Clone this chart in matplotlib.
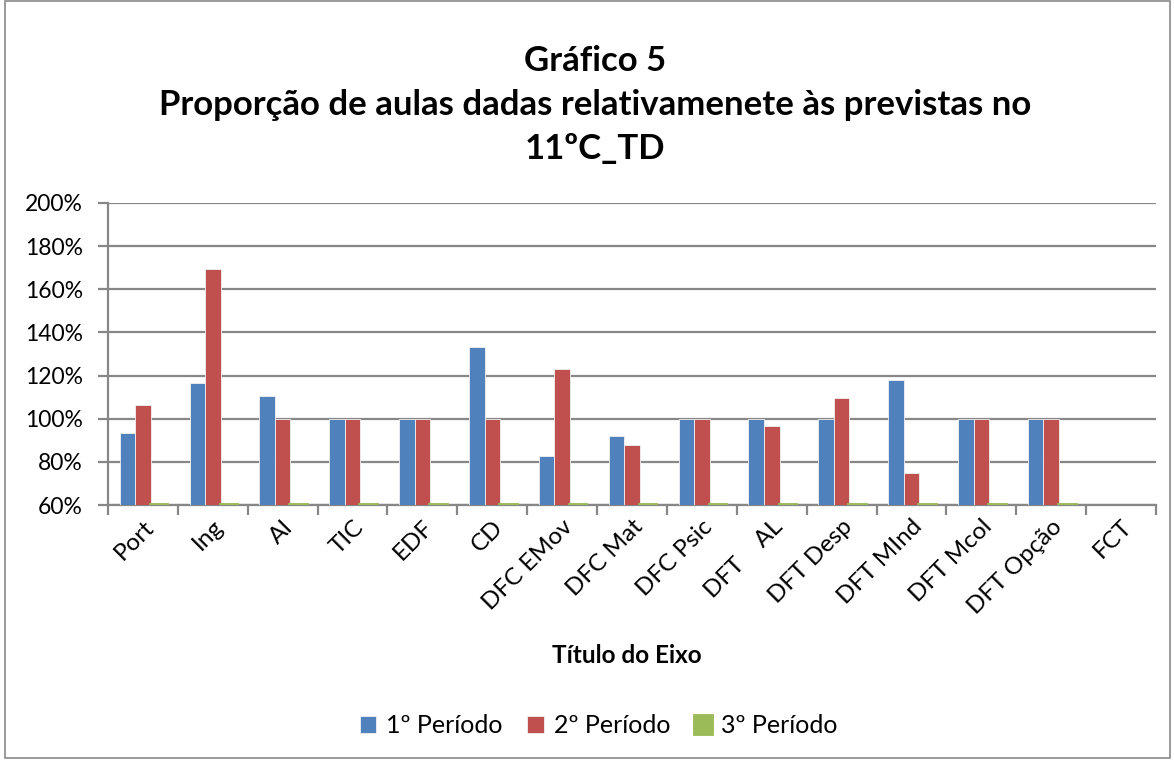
import numpy as np
import matplotlib
matplotlib.use('Agg')
import matplotlib.pyplot as plt
from matplotlib.patches import Rectangle

plt.rcParams['font.family'] = ['Lato', 'DejaVu Sans']

# data (fractions of planned classes)
categories = ['Port', 'Ing', 'AI', 'TIC', 'EDF', 'CD', 'DFC EMov', 'DFC Mat',
              'DFC Psic', 'DFT    AL', 'DFT Desp', 'DFT MInd', 'DFT Mcol',
              'DFT Opção', 'FCT']
periodo_1 = [0.935, 1.165, 1.105, 1.0, 1.0, 1.333, 0.827, 0.92,
             1.0, 1.0, 1.0, 1.178, 1.0, 1.0, np.nan]
periodo_2 = [1.062, 1.692, 1.0, 1.0, 1.0, 1.0, 1.229, 0.878,
             1.0, 0.965, 1.096, 0.747, 1.0, 1.0, np.nan]
periodo_3 = [0, 0, 0, 0, 0, 0, 0, 0, 0, 0, 0, 0, 0, 0, np.nan]
series_names = ['1º Período', '2º Período', '3º Período']
series_colors = ['#4F81BD', '#C0504D', '#9BBB59']

Y_MIN, Y_MAX = 0.6, 2.0
GRID = '#878787'

fig = plt.figure(figsize=(11.74, 7.6), dpi=100)
ax = fig.add_axes([0.092, 0.3355, 0.8927, 0.3975])

x = np.arange(len(categories))
w = 0.222
for k, (vals, name, col) in enumerate(zip([periodo_1, periodo_2, periodo_3],
                                           series_names, series_colors)):
    vals = np.array(vals, dtype=float)
    if k == 2:
        # values below the axis minimum show as a thin line on the axis (Excel style)
        shown = np.where(np.isnan(vals), np.nan, np.maximum(vals, Y_MIN))
        ax.bar(x + (k - 1) * w, shown, w, color=col, edgecolor=col,
               linewidth=3.5, label=name, zorder=4)
    else:
        ax.bar(x + (k - 1) * w, vals, w, color=col, edgecolor='#f2f2f2',
               linewidth=0.6, label=name, zorder=3)

ax.set_ylim(Y_MIN, Y_MAX)
ax.set_xlim(-0.5, len(categories) - 0.5)
ax.set_yticks(np.arange(0.6, 2.01, 0.2))
ax.set_yticklabels(['{:.0f}%'.format(v * 100) for v in np.arange(0.6, 2.01, 0.2)],
                   fontsize=16.5)
ax.yaxis.grid(True, color=GRID, linewidth=1.6, zorder=0)
ax.set_axisbelow(True)

ax.set_xticks(np.arange(-0.5, len(categories), 1.0))
ax.set_xticklabels([])
ax.set_xticks(x, minor=True)
ax.set_xticklabels(categories, minor=True, rotation=45, ha='right', va='top',
                   rotation_mode='anchor', fontsize=17.5)
ax.tick_params(axis='x', which='minor', length=0, pad=8)
ax.tick_params(axis='x', which='major', length=7, width=1.6, color=GRID)
ax.tick_params(axis='y', length=7, width=1.6, color=GRID, pad=11)

for s in ['top', 'right']:
    ax.spines[s].set_visible(False)
for s in ['left', 'bottom']:
    ax.spines[s].set_color(GRID)
    ax.spines[s].set_linewidth(1.6)

fig.text(0.507, 0.862, 'Gráfico 5\nProporção de aulas dadas relativamenete às previstas no\n11ºC_TD',
         ha='center', va='center', fontsize=25, fontweight='bold', linespacing=1.45)
fig.text(0.534, 0.138, 'Título do Eixo', ha='center', va='center',
         fontsize=17.5, fontweight='bold')

fig.legend(loc='center', bbox_to_anchor=(0.51, 0.045), ncol=3, frameon=False,
           fontsize=18, handlelength=0.65, handleheight=0.65, handletextpad=0.4,
           columnspacing=1.0)

fig.add_artist(Rectangle((0.004, 0.003), 0.993, 0.996, transform=fig.transFigure,
                         fill=False, edgecolor='#8a8a8a', linewidth=1.2))

fig.savefig('out.png', dpi=100)
